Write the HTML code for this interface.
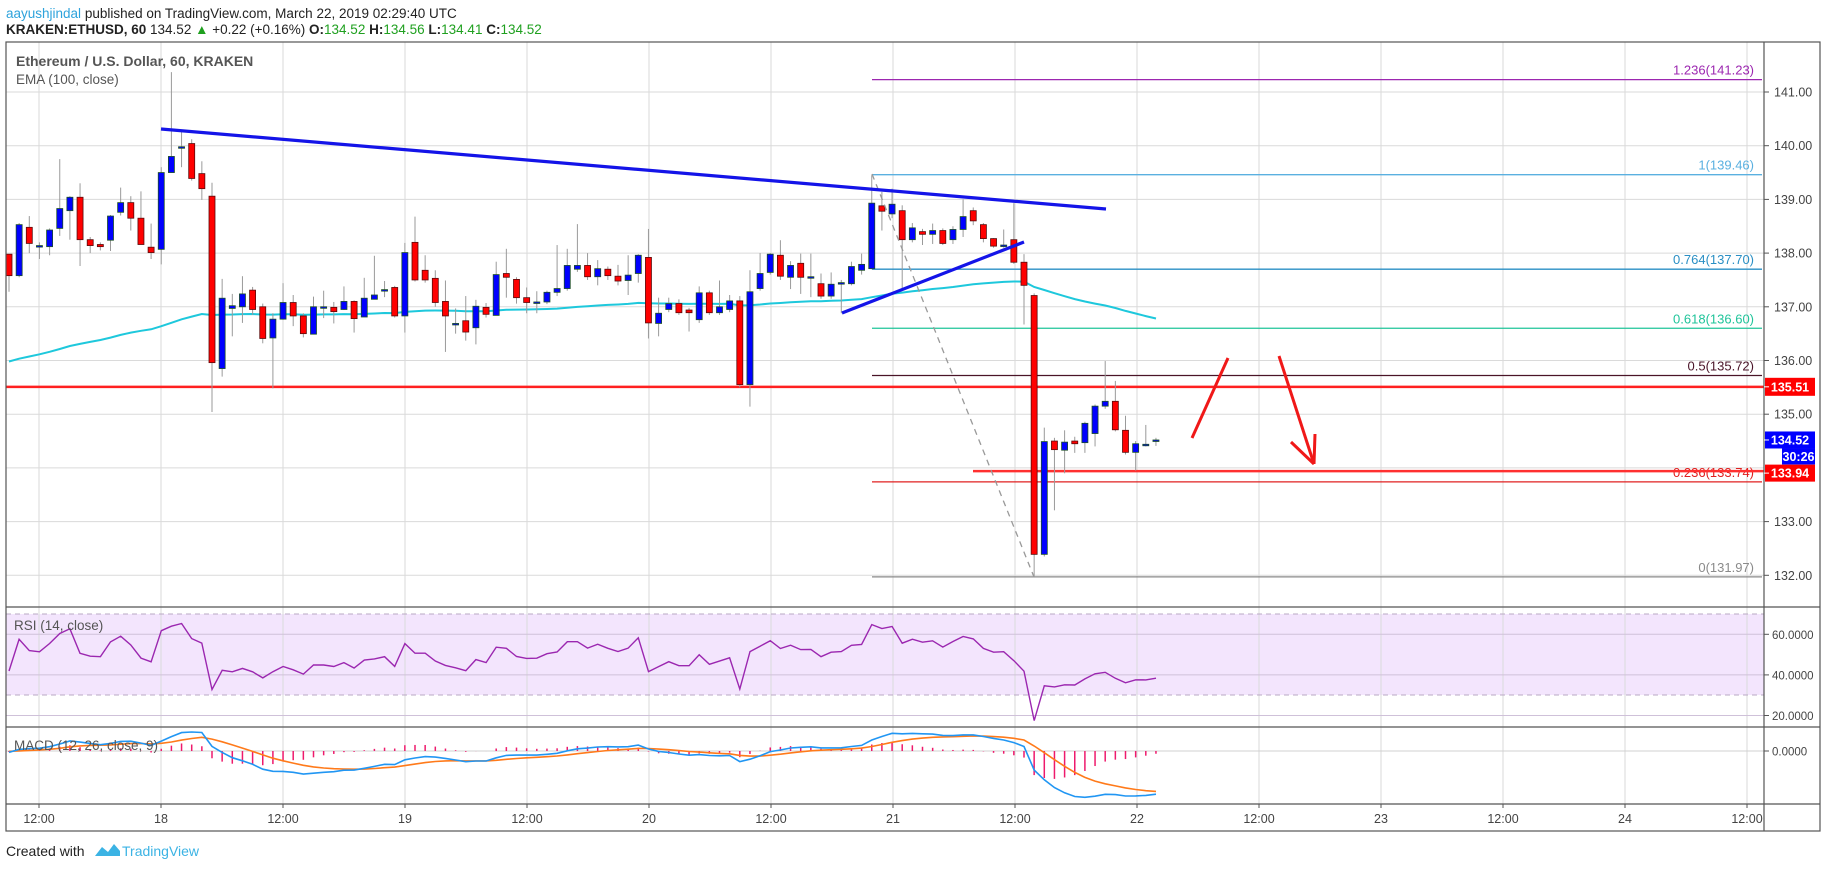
<!DOCTYPE html>
<html><head><meta charset="utf-8">
<style>
html,body{margin:0;padding:0;background:#fff;}
body{width:1828px;height:868px;overflow:hidden;font-family:"Liberation Sans",sans-serif;}
svg text{font-family:"Liberation Sans",sans-serif;}
</style></head>
<body>
<svg id="s" width="1828" height="868" xmlns="http://www.w3.org/2000/svg"></svg>
<script>
var D=[
[137.98,137.58,137.98,137.28],[137.58,138.53,138.56,137.55],[138.48,138.18,138.69,138.0],[138.14,138.14,138.2,137.89],[138.12,138.43,138.46,137.96],
[138.46,138.83,139.75,138.32],[138.79,139.04,139.06,138.25],[139.04,138.25,139.3,137.76],[138.25,138.14,138.3,138.0],[138.16,138.12,138.2,138.05],
[138.24,138.69,138.71,138.04],[138.76,138.94,139.22,138.7],[138.94,138.65,139.06,138.42],[138.65,138.16,139.15,138.16],[138.11,138.01,138.55,137.89],
[138.07,139.50,139.6,137.79],[139.50,139.80,141.37,139.50],[139.98,139.98,140.26,139.6],[140.04,139.39,140.12,139.35],[139.48,139.20,139.71,138.99],
[139.06,135.96,139.31,135.04],[135.85,137.16,137.52,135.7],[136.97,137.02,137.24,136.45],[137.0,137.24,137.57,136.7],[137.31,136.95,137.37,136.85],
[137.0,136.41,137.06,136.32],[136.42,136.77,136.88,135.48],[136.77,137.08,137.44,136.76],[137.08,136.83,137.22,136.64],[136.83,136.50,136.88,136.43],
[136.49,137.0,137.19,136.49],[137.0,137.0,137.30,136.79],[136.99,136.91,137.09,136.69],[136.95,137.1,137.38,136.94],[137.1,136.78,137.12,136.52],
[136.81,137.16,137.54,136.81],[137.14,137.22,137.95,137.14],[137.32,137.32,137.48,137.18],[137.36,136.83,137.39,136.8],[136.83,138.01,138.19,136.52],
[138.20,137.50,138.68,137.47],[137.68,137.50,137.96,137.45],[137.53,137.08,137.68,137.0],[137.1,136.83,137.49,136.16],[136.69,136.69,136.97,136.50],
[136.74,136.53,137.20,136.37],[136.61,137.01,137.13,136.30],[136.99,136.86,137.07,136.8],[136.84,137.60,137.84,136.84],[137.62,137.55,138.08,137.17],
[137.51,137.17,137.55,137.06],[137.17,137.08,137.36,136.88],[137.09,137.09,137.29,136.88],[137.09,137.27,137.30,137.05],[137.27,137.34,138.15,137.2],
[137.34,137.77,138.08,137.3],[137.70,137.77,138.54,137.65],[137.77,137.56,138.0,137.5],[137.56,137.71,137.87,137.40],[137.70,137.58,137.75,137.5],
[137.57,137.48,137.78,137.4],[137.49,137.59,137.96,137.22],[137.62,137.96,137.98,137.45],[137.92,136.70,138.45,136.41],[136.69,136.88,137.17,136.45],
[136.95,137.06,137.17,136.9],[137.06,136.89,137.14,136.85],[136.94,136.89,136.98,136.54],[136.76,137.26,137.38,136.7],[137.26,136.89,137.3,136.85],
[136.89,137.0,137.49,136.85],[136.95,137.11,137.22,136.9],[137.11,135.55,137.2,135.5],[135.55,137.28,137.68,135.14],[137.34,137.62,138.0,137.3],
[137.64,137.98,138.0,137.6],[137.96,137.57,138.24,137.5],[137.55,137.77,137.85,137.33],[137.81,137.55,137.99,137.24],[137.56,137.56,137.99,137.18],
[137.43,137.2,137.62,137.15],[137.2,137.42,137.64,137.15],[137.45,137.45,137.5,136.88],[137.43,137.75,137.84,137.4],[137.68,137.79,137.99,137.6],
[137.71,138.93,139.45,137.7],[138.88,138.78,139.14,138.42],[138.73,138.91,139.2,138.65],[138.79,138.25,138.89,137.34],[138.25,138.47,138.56,138.2],
[138.40,138.35,138.45,138.15],[138.35,138.42,138.55,138.17],[138.42,138.18,138.46,138.15],[138.25,138.44,138.50,138.17],[138.44,138.68,139.0,138.3],
[138.79,138.60,138.85,138.52],[138.53,138.27,138.56,138.2],[138.27,138.13,138.28,138.1],[138.15,138.15,138.44,138.1],[138.25,137.83,138.93,137.8],
[137.83,137.40,137.98,136.67],[137.21,132.39,137.25,131.97],[132.39,134.49,134.75,132.35],[134.50,134.34,134.56,133.21],[134.33,134.48,134.70,133.9],
[134.50,134.45,134.58,134.28],[134.47,134.83,134.86,134.28],[134.64,135.15,135.18,134.40],[135.15,135.24,135.99,135.1],[135.24,134.71,135.62,134.68],
[134.70,134.29,134.97,134.25],[134.29,134.45,134.5,133.95],[134.44,134.44,134.80,134.4],[134.52,134.52,134.56,134.41]];
var h='';
function Y(p){return 92+(141-p)*53.7;}
function X(i){return 9+i*10.15;}
function RY(r){return 614+(70-r)*2.03;}
function ln(x1,y1,x2,y2,c,w,extra){h+='<line x1="'+x1+'" y1="'+y1+'" x2="'+x2+'" y2="'+y2+'" stroke="'+c+'" stroke-width="'+(w||1)+'" '+(extra||'')+'/>';}
function tx(x,y,t,c,sz,anc,wt){h+='<text x="'+x+'" y="'+y+'" fill="'+c+'" font-size="'+sz+'" text-anchor="'+(anc||'start')+'"'+(wt?' font-weight="'+wt+'"':'')+'>'+t+'</text>';}
var L=6,R=1764,RR=1820;
h+='<text x="6" y="18" font-size="13.5"><tspan fill="#2ea3dc">aayushjindal</tspan><tspan fill="#222"> published on TradingView.com, March 22, 2019 02:29:40 UTC</tspan></text>';
h+='<text x="6" y="34" font-size="13.5" fill="#222"><tspan font-weight="bold">KRAKEN:ETHUSD, 60</tspan> 134.52 <tspan fill="#1fa01f">▲</tspan> +0.22 (+0.16%) <tspan font-weight="bold">O:</tspan><tspan fill="#1fa01f">134.52</tspan> <tspan font-weight="bold">H:</tspan><tspan fill="#1fa01f">134.56</tspan> <tspan font-weight="bold">L:</tspan><tspan fill="#1fa01f">134.41</tspan> <tspan font-weight="bold">C:</tspan><tspan fill="#1fa01f">134.52</tspan></text>';
h+='<rect x="'+L+'" y="614" width="'+(R-L)+'" height="81" fill="#f3e5fd"/>';
var tX=[39,161,283,405,527,649,771,893,1015,1137,1259,1381,1503,1625,1747];
var tL=['12:00','18','12:00','19','12:00','20','12:00','21','12:00','22','12:00','23','12:00','24','12:00'];
for(var i=0;i<tX.length;i++){ln(tX[i],42,tX[i],804,'#dadada',1);ln(tX[i],804,tX[i],808,'#555',1);tx(tX[i],823,tL[i],'#444',12.5,'middle');}
for(var p=132;p<=141;p++){var y=Y(p);ln(L,y,R,y,'#dadada',1);if(p!=134){ln(R,y,R+5,y,'#555',1);tx(R+10,y+4.5,p.toFixed(2),'#444',12.5);}}
[60,40,20].forEach(function(r){var y=RY(r);ln(L,y,R,y,'#cfc1d9',1);ln(R,y,R+5,y,'#555',1);tx(R+8,y+4.5,r.toFixed(4),'#444',11.5);});
ln(L,614,R,614,'#b9a9c4',1,'stroke-dasharray="5,4"');ln(L,695,R,695,'#b9a9c4',1,'stroke-dasharray="5,4"');
ln(L,751,R,751,'#d0d0d0',1);ln(R,751,R+5,751,'#555',1);tx(R+8,755.5,'0.0000','#444',11.5);
var n=D.length,ema=[],e=135.95,a=2/101;
var e12=137.9,e26=137.9,sig=0,mac=[],sg=[],hi=[];
var ag=0.09,al=0.1,rs=[];
for(i=0;i<n;i++){var c=D[i][1];e=e+a*(c-e);ema.push(e);
 e12+= (2/13)*(c-e12);e26+=(2/27)*(c-e26);var m=e12-e26;sig+=(2/10)*(m-sig);mac.push(m);sg.push(sig);hi.push(m-sig);
 var pc=i?D[i-1][1]:137.9;var g=Math.max(c-pc,0),ls=Math.max(pc-c,0);ag=(ag*13+g)/14;al=(al*13+ls)/14;rs.push(100-100/(1+ag/al));}
var mn=0,mx=0;for(i=0;i<n;i++){mn=Math.min(mn,mac[i],sg[i]);mx=Math.max(mx,mac[i],sg[i]);}
var sc=Math.min(48/(-mn||1),19/(mx||1));function MY(v){return 751-v*sc;}
var fx=872;
var fib=[['1.236',141.23,'#9c27b0'],['1',139.46,'#5ab0e0'],['0.764',137.70,'#2a8fc4'],['0.618',136.60,'#1fc49a'],['0.5',135.72,'#4a1428'],['0.236',133.74,'#e02020'],['0',131.97,'#8a8a8a']];
fib.forEach(function(f){var y=Y(f[1]);ln(fx,y,R-2,y,f[2],1.3);tx(R-10,y-5,f[0]+'('+f[1].toFixed(2)+')',f[2],13,'end');});
ln(L,Y(135.51),R,Y(135.51),'#ff2020',2.5);
ln(973,Y(133.94),R,Y(133.94),'#ff3030',2.5);
var pts=[];for(i=0;i<n;i++)pts.push(X(i).toFixed(1)+','+Y(ema[i]).toFixed(1));
h+='<polyline points="'+pts.join(' ')+'" fill="none" stroke="#1ec8dc" stroke-width="2"/>';
for(i=0;i<n;i++){var d=D[i],x=X(i),up=d[1]>=d[0];
 ln(x,Y(d[2]),x,Y(d[3]),'#9a9a9a',1);
 var t=Y(Math.max(d[0],d[1])),b=Y(Math.min(d[0],d[1]));if(b-t<1.5){b=t+1.5;}
 h+='<rect x="'+(x-3)+'" y="'+t+'" width="6" height="'+(b-t)+'" fill="'+(up?'#0000ff':'#ff0000')+'" stroke="'+(up?'#1c4f26':'#5a0a0a')+'" stroke-width="0.8"/>';}
ln(872,174,1034,577,'#999',1.3,'stroke-dasharray="6,5"');
ln(161,129,1106,209,'#1414e8',3.2);ln(842,313,1024,242,'#1414e8',3.2);
ln(1192,438,1228,358,'#f01818',3);ln(1279,356,1314,464,'#f01818',3);ln(1291,442,1314,464,'#f01818',3);ln(1315,434,1314,464,'#f01818',3);
pts=[];for(i=0;i<n;i++)pts.push(X(i).toFixed(1)+','+RY(rs[i]).toFixed(1));
h+='<polyline points="'+pts.join(' ')+'" fill="none" stroke="#9b27b0" stroke-width="1.4"/>';
for(i=0;i<n;i++){ln(X(i),751,X(i),MY(hi[i]),'#ee1a6c',1.5);}
pts=[];var p2=[];for(i=0;i<n;i++){pts.push(X(i).toFixed(1)+','+MY(mac[i]).toFixed(1));p2.push(X(i).toFixed(1)+','+MY(sg[i]).toFixed(1));}
h+='<polyline points="'+p2.join(' ')+'" fill="none" stroke="#ff7a1a" stroke-width="1.6"/>';
h+='<polyline points="'+pts.join(' ')+'" fill="none" stroke="#2196f3" stroke-width="1.6"/>';
tx(16,66,'Ethereum / U.S. Dollar, 60, KRAKEN','#555',14,'start','bold');
tx(16,84,'EMA (100, close)','#555',13.5);
tx(14,630,'RSI (14, close)','#555',13.5);
tx(14,750,'MACD (12, 26, close, 9)','#555',13.5);
h+='<rect x="'+L+'" y="42" width="'+(RR-L)+'" height="789" fill="none" stroke="#555" stroke-width="1.2"/>';
ln(R,42,R,831,'#555',1.2);ln(L,607,RR,607,'#555',1.2);ln(L,727,RR,727,'#555',1.2);ln(L,804,RR,804,'#555',1.2);
function box(x,y,w,t,c,hh){hh=hh||18;h+='<rect x="'+x+'" y="'+(y-hh/2)+'" width="'+w+'" height="'+hh+'" fill="'+c+'"/>';tx(x+w/2,y+4.5,t,'#fff',12.5,'middle','bold');}
box(R+1,Y(135.51),50,'135.51','#ff0000');box(R+1,Y(134.52),50,'134.52','#0000ff',17);box(R+18,Y(134.52)+16.5,33,'30:26','#0000ff',16);box(R+1,Y(133.94)+2,50,'133.94','#ff0000',17);
ln(R,Y(135.51),R+5,Y(135.51),'#fff',1);ln(R,Y(134.52),R+5,Y(134.52),'#fff',1);ln(R,Y(133.94)+2,R+5,Y(133.94)+2,'#fff',1);
tx(6,856,'Created with','#222',14);
h+='<path d="M95 856 l7 -9 l6 5 l6 -8 l6 7 l0 5 z" fill="#3bb3e4"/>';
tx(122,856,'TradingView','#3bb3e4',14);
document.getElementById('s').innerHTML=h;
</script>
</body></html>
